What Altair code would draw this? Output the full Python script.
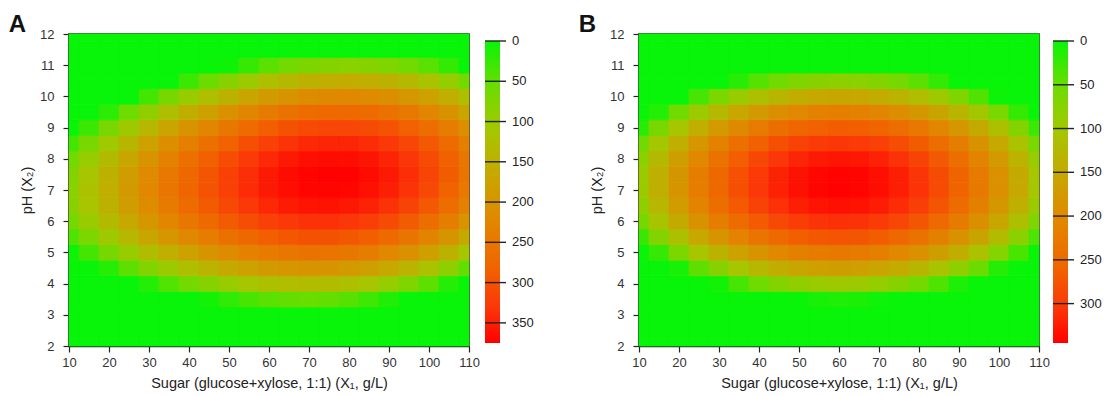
import altair as alt
import pandas as pd

FONT = "Liberation Sans"

# ---- grid coordinates ----
sugar = [10, 15, 20, 25, 30, 35, 40, 45, 50, 55, 60, 65, 70, 75, 80, 85, 90, 95, 100, 105, 110]
ph = [2.0, 2.5, 3.0, 3.5, 4.0, 4.5, 5.0, 5.5, 6.0, 6.5, 7.0, 7.5, 8.0, 8.5, 9.0, 9.5, 10.0, 10.5, 11.0, 11.5, 12.0]
sugar_ticks = [10, 20, 30, 40, 50, 60, 70, 80, 90, 100, 110]
ph_ticks = [2, 3, 4, 5, 6, 7, 8, 9, 10, 11, 12]

# ---- panel A values (one row per pH level, columns follow `sugar`) ----
yield_A = [
    [0] * 21,
    [0] * 21,
    [0] * 21,
    [0, 0, 0, 0, 0, 0, 0, 6, 22, 36, 46, 52, 54, 51, 44, 31, 14, 0, 0, 0, 0],
    [0, 0, 0, 0, 15, 41, 62, 81, 98, 112, 123, 129, 132, 130, 123, 112, 95, 75, 48, 17, 0],
    [0, 0, 16, 48, 77, 103, 126, 145, 163, 177, 189, 196, 199, 198, 192, 181, 165, 145, 119, 89, 50],
    [1, 34, 66, 98, 128, 155, 178, 198, 216, 232, 244, 252, 256, 255, 249, 239, 224, 205, 180, 150, 112],
    [39, 72, 105, 138, 168, 196, 220, 240, 259, 275, 288, 296, 301, 301, 296, 287, 272, 254, 229, 200, 163],
    [65, 99, 133, 166, 197, 225, 250, 271, 291, 307, 321, 330, 335, 336, 332, 323, 309, 291, 267, 239, 202],
    [81, 115, 149, 184, 215, 244, 269, 291, 312, 329, 343, 353, 359, 360, 356, 348, 335, 318, 294, 267, 231],
    [85, 120, 155, 190, 222, 252, 278, 300, 321, 339, 354, 364, 371, 372, 370, 362, 350, 333, 311, 284, 248],
    [78, 114, 150, 185, 218, 248, 275, 298, 320, 338, 354, 365, 372, 374, 373, 366, 354, 338, 316, 290, 255],
    [61, 97, 133, 170, 203, 234, 261, 285, 308, 327, 343, 355, 363, 365, 364, 358, 347, 332, 310, 285, 251],
    [32, 69, 106, 143, 177, 209, 237, 261, 284, 304, 321, 333, 342, 345, 345, 339, 329, 314, 294, 269, 235],
    [0, 30, 68, 105, 140, 173, 201, 226, 250, 270, 288, 301, 310, 314, 315, 310, 300, 286, 266, 242, 209],
    [0, 0, 19, 57, 92, 125, 154, 180, 205, 226, 244, 258, 268, 272, 273, 269, 260, 246, 227, 204, 171],
    [0, 0, 0, 0, 33, 67, 97, 124, 148, 170, 189, 203, 214, 219, 221, 217, 209, 196, 177, 155, 123],
    [0, 0, 0, 0, 0, 0, 28, 56, 81, 103, 123, 138, 149, 155, 158, 155, 147, 135, 117, 95, 64],
    [0, 0, 0, 0, 0, 0, 0, 0, 3, 26, 46, 62, 73, 80, 83, 81, 74, 62, 45, 24, 0],
    [0] * 21,
    [0] * 21,
]

# ---- panel B values ----
yield_B = [
    [0] * 21,
    [0] * 21,
    [0] * 21,
    [0, 0, 0, 0, 0, 0, 0, 0, 1, 9, 12, 10, 3, 0, 0, 0, 0, 0, 0, 0, 0],
    [0, 0, 0, 0, 5, 32, 55, 72, 85, 93, 96, 94, 87, 75, 59, 37, 11, 0, 0, 0, 0],
    [0, 0, 7, 45, 77, 104, 127, 144, 157, 165, 168, 166, 159, 147, 131, 109, 83, 51, 15, 0, 0],
    [0, 24, 66, 104, 136, 163, 186, 203, 216, 224, 227, 225, 218, 206, 190, 168, 142, 110, 74, 33, 0],
    [25, 72, 114, 152, 184, 211, 234, 251, 264, 272, 275, 273, 266, 254, 238, 216, 190, 158, 122, 81, 35],
    [60, 107, 149, 187, 219, 246, 269, 286, 299, 307, 310, 308, 301, 289, 273, 251, 225, 193, 157, 116, 70],
    [83, 130, 172, 210, 242, 269, 292, 309, 322, 330, 333, 331, 324, 312, 296, 274, 248, 216, 180, 139, 93],
    [94, 141, 183, 221, 253, 280, 303, 320, 333, 341, 344, 342, 335, 323, 307, 285, 259, 227, 191, 150, 104],
    [93, 140, 182, 220, 252, 279, 302, 319, 332, 340, 343, 341, 334, 322, 306, 284, 258, 226, 190, 149, 103],
    [79, 126, 168, 206, 238, 265, 288, 305, 318, 326, 329, 327, 320, 308, 292, 270, 244, 212, 176, 135, 89],
    [54, 101, 143, 181, 213, 240, 263, 280, 293, 301, 304, 302, 295, 283, 267, 245, 219, 187, 151, 110, 64],
    [16, 63, 105, 143, 175, 202, 225, 242, 255, 263, 266, 264, 257, 245, 229, 207, 181, 149, 113, 72, 26],
    [0, 14, 56, 94, 126, 153, 176, 193, 206, 214, 217, 215, 208, 196, 180, 158, 132, 100, 64, 23, 0],
    [0, 0, 0, 32, 64, 91, 114, 131, 144, 152, 155, 153, 146, 134, 118, 96, 70, 38, 2, 0, 0],
    [0, 0, 0, 0, 0, 16, 39, 56, 69, 77, 80, 78, 71, 59, 43, 21, 0, 0, 0, 0, 0],
    [0] * 21,
    [0] * 21,
    [0] * 21,
]

# ---- colour bars ----
max_A = 375
max_B = 345
legend_ticks_A = [0, 50, 100, 150, 200, 250, 300, 350]
legend_ticks_B = [0, 50, 100, 150, 200, 250, 300]
color_stops = [0.0, 0.15, 0.30, 0.45, 0.60, 0.75, 0.88, 1.0]
color_list = ["#08f408", "#6cdc00", "#a6c600", "#c8a600", "#e28600", "#f06400", "#fb3808", "#ff0000"]

x_title = "Sugar (glucose+xylose, 1:1) (X\u2081, g/L)"
y_title = "pH (X\u2082)"

PLOT_W, PLOT_H = 400, 312


def cells(grid):
    half_s = (sugar[1] - sugar[0]) / 2
    half_p = (ph[1] - ph[0]) / 2
    recs = []
    for j, p in enumerate(ph):
        for i, s in enumerate(sugar):
            recs.append({
                "s0": max(sugar[0], s - half_s), "s1": min(sugar[-1], s + half_s),
                "p0": max(ph[0], p - half_p), "p1": min(ph[-1], p + half_p),
                "v": grid[j][i],
            })
    return pd.DataFrame(recs)


def axis(values, title, label_pad, title_pad):
    return alt.Axis(values=values, title=title, labelFontSize=13, labelColor="#333",
                    tickColor="#222", tickSize=6, tickWidth=1.2, domainColor="#222",
                    domainWidth=1.5, labelPadding=label_pad, titleFontSize=14.5,
                    titleFontWeight="normal", titleColor="#222", titlePadding=title_pad,
                    grid=False, labelFlush=False)


def heat(grid, vmax):
    cscale = alt.Scale(domain=[f * vmax for f in color_stops], range=color_list,
                       interpolate="rgb", clamp=True)
    return alt.Chart(cells(grid)).mark_rect(strokeWidth=0.8).encode(
        x=alt.X("s0:Q", scale=alt.Scale(domain=[10, 110], nice=False, zero=False),
                axis=axis(sugar_ticks, x_title, 4, 7)),
        x2="s1:Q",
        y=alt.Y("p0:Q", scale=alt.Scale(domain=[2, 12], nice=False, zero=False),
                axis=axis(ph_ticks, y_title, 9, 5)),
        y2="p1:Q",
        color=alt.Color("v:Q", scale=cscale, legend=None),
        stroke=alt.Stroke("v:Q", scale=cscale, legend=None),
    ).properties(width=PLOT_W, height=PLOT_H,
                 view=alt.ViewBackground(stroke="#1a1a1a", strokeWidth=1.6))


def colorbar(vmax, ticks):
    bar_px, top_px, bot_px = 302, 7, 3
    upp = vmax / bar_px
    lscale = alt.Scale(domain=[-top_px * upp, vmax + bot_px * upp], reverse=True,
                       nice=False, zero=False)
    grad = alt.Gradient(gradient="linear",
                        stops=[alt.GradientStop(color=c, offset=f) for f, c in zip(color_stops, color_list)],
                        x1=0, x2=0, y1=0, y2=1)
    bar = alt.Chart(pd.DataFrame({"lo": [0], "hi": [vmax]})).mark_rect(fill=grad).encode(
        x=alt.value(0), x2=alt.value(15),
        y=alt.Y("lo:Q", scale=lscale, axis=None), y2="hi:Q")
    tdf = pd.DataFrame({"t": ticks})
    tick_marks = alt.Chart(tdf).mark_rule(color="#222", strokeWidth=1.4).encode(
        y=alt.Y("t:Q", scale=lscale, axis=None), x=alt.value(0), x2=alt.value(21))
    labels = alt.Chart(tdf).mark_text(align="left", baseline="middle", fontSize=13,
                                      font=FONT, color="#222").encode(
        y=alt.Y("t:Q", scale=lscale, axis=None), x=alt.value(27), text="t:Q")
    return alt.layer(bar, tick_marks, labels).properties(width=48, height=PLOT_H)


def panel(letter, grid, vmax, ticks, gap):
    return alt.hconcat(
        heat(grid, vmax), colorbar(vmax, ticks), spacing=gap,
        title=alt.TitleParams(letter, anchor="start", frame="bounds", fontSize=24,
                              fontWeight="bold", font=FONT, color="#111", dx=-10, dy=11,
                              offset=1),
    ).resolve_scale(color="independent", stroke="independent")


chart = alt.hconcat(
    panel("A", yield_A, max_A, legend_ticks_A, 3),
    panel("B", yield_B, max_B, legend_ticks_B, 1),
    spacing=44,
).resolve_scale(color="independent", stroke="independent").configure(
    font=FONT, padding={"left": 0, "top": 5, "right": 0, "bottom": 0}
).configure_view(strokeWidth=0)

chart.save("out.html", embed_options={"renderer": "svg", "actions": False})
